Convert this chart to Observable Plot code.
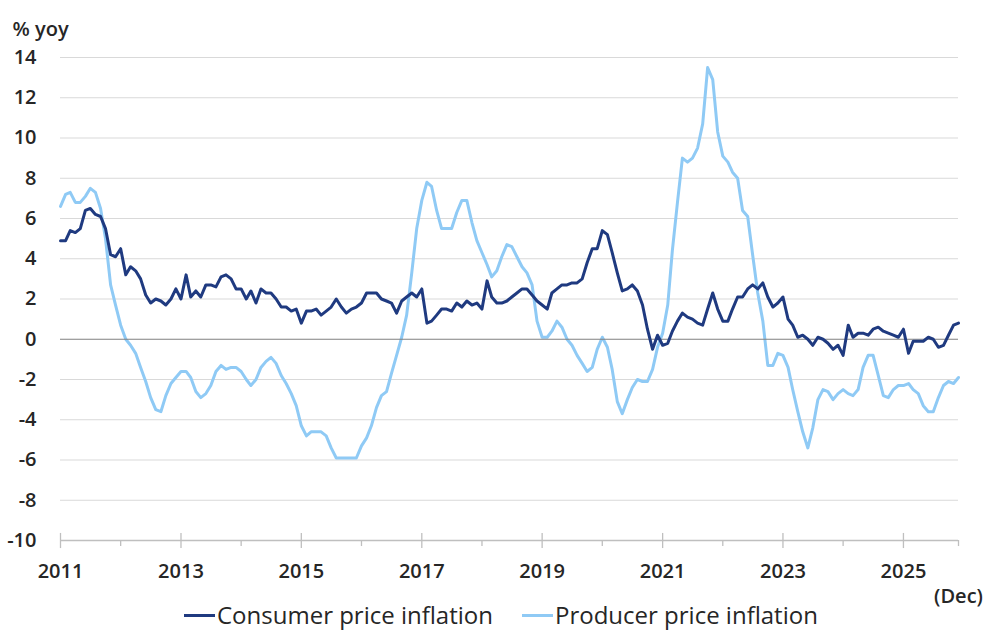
<!DOCTYPE html>
<html>
<head>
<meta charset="utf-8">
<script src="https://cdn.jsdelivr.net/npm/d3@7"></script>
<script src="https://cdn.jsdelivr.net/npm/@observablehq/plot@0.6"></script>
<style>
  html, body { margin: 0; padding: 0; background: #fff; }
  body { width: 987px; height: 631px; overflow: hidden; font-family: "Open Sans", sans-serif; color: #262626; }
  #chart svg { display: block; overflow: visible; }
  #legend { position: relative; height: 24px; }
  .item { position: absolute; top: 0; height: 24px; display: flex; align-items: center; font-size: 24px; line-height: 24px; white-space: nowrap; }
  .sw { display: inline-block; width: 31px; height: 3px; margin-right: 2px; }
</style>
</head>
<body>
<div id="chart"></div>
<div id="legend">
  <div class="item" style="left:184px"><span class="sw" style="background:#1f3a80"></span>Consumer price inflation</div>
  <div class="item" style="left:522px"><span class="sw" style="background:#8fcaf5"></span>Producer price inflation</div>
</div>
<script>
const startYear = 2011;
const seriesNames = ["Consumer price inflation", "Producer price inflation"];
const yTicks = [-10, -8, -6, -4, -2, 0, 2, 4, 6, 8, 10, 12, 14];
const xLabelYears = [2011, 2013, 2015, 2017, 2019, 2021, 2023, 2025];
const endLabel = "(Dec)";
const yUnit = "% yoy";

// Monthly values, Jan 2011 – Dec 2025
const cpi = [
  4.9, 4.9, 5.4, 5.3, 5.5, 6.4, 6.5, 6.2, 6.1, 5.5, 4.2, 4.1,
  4.5, 3.2, 3.6, 3.4, 3.0, 2.2, 1.8, 2.0, 1.9, 1.7, 2.0, 2.5,
  2.0, 3.2, 2.1, 2.4, 2.1, 2.7, 2.7, 2.6, 3.1, 3.2, 3.0, 2.5,
  2.5, 2.0, 2.4, 1.8, 2.5, 2.3, 2.3, 2.0, 1.6, 1.6, 1.4, 1.5,
  0.8, 1.4, 1.4, 1.5, 1.2, 1.4, 1.6, 2.0, 1.6, 1.3, 1.5, 1.6,
  1.8, 2.3, 2.3, 2.3, 2.0, 1.9, 1.8, 1.3, 1.9, 2.1, 2.3, 2.1,
  2.5, 0.8, 0.9, 1.2, 1.5, 1.5, 1.4, 1.8, 1.6, 1.9, 1.7, 1.8,
  1.5, 2.9, 2.1, 1.8, 1.8, 1.9, 2.1, 2.3, 2.5, 2.5, 2.2, 1.9,
  1.7, 1.5, 2.3, 2.5, 2.7, 2.7, 2.8, 2.8, 3.0, 3.8, 4.5, 4.5,
  5.4, 5.2, 4.3, 3.3, 2.4, 2.5, 2.7, 2.4, 1.7, 0.5, -0.5, 0.2,
  -0.3, -0.2, 0.4, 0.9, 1.3, 1.1, 1.0, 0.8, 0.7, 1.5, 2.3, 1.5,
  0.9, 0.9, 1.5, 2.1, 2.1, 2.5, 2.7, 2.5, 2.8, 2.1, 1.6, 1.8,
  2.1, 1.0, 0.7, 0.1, 0.2, 0.0, -0.3, 0.1, 0.0, -0.2, -0.5, -0.3,
  -0.8, 0.7, 0.1, 0.3, 0.3, 0.2, 0.5, 0.6, 0.4, 0.3, 0.2, 0.1,
  0.5, -0.7, -0.1, -0.1, -0.1, 0.1, 0.0, -0.4, -0.3, 0.2, 0.7, 0.8
];
const ppi = [
  6.6, 7.2, 7.3, 6.8, 6.8, 7.1, 7.5, 7.3, 6.5, 5.0, 2.7, 1.7,
  0.7, 0.0, -0.3, -0.7, -1.4, -2.1, -2.9, -3.5, -3.6, -2.8, -2.2, -1.9,
  -1.6, -1.6, -1.9, -2.6, -2.9, -2.7, -2.3, -1.6, -1.3, -1.5, -1.4, -1.4,
  -1.6, -2.0, -2.3, -2.0, -1.4, -1.1, -0.9, -1.2, -1.8, -2.2, -2.7, -3.3,
  -4.3, -4.8, -4.6, -4.6, -4.6, -4.8, -5.4, -5.9, -5.9, -5.9, -5.9, -5.9,
  -5.3, -4.9, -4.3, -3.4, -2.8, -2.6, -1.7, -0.8, 0.1, 1.2, 3.3, 5.5,
  6.9, 7.8, 7.6, 6.4, 5.5, 5.5, 5.5, 6.3, 6.9, 6.9, 5.8, 4.9,
  4.3, 3.7, 3.1, 3.4, 4.1, 4.7, 4.6, 4.1, 3.6, 3.3, 2.7, 0.9,
  0.1, 0.1, 0.4, 0.9, 0.6, 0.0, -0.3, -0.8, -1.2, -1.6, -1.4, -0.5,
  0.1, -0.4, -1.5, -3.1, -3.7, -3.0, -2.4, -2.0, -2.1, -2.1, -1.5, -0.4,
  0.3, 1.7, 4.4, 6.8, 9.0, 8.8, 9.0, 9.5, 10.7, 13.5, 12.9, 10.3,
  9.1, 8.8, 8.3, 8.0, 6.4, 6.1, 4.2, 2.3, 0.9, -1.3, -1.3, -0.7,
  -0.8, -1.4, -2.5, -3.6, -4.6, -5.4, -4.4, -3.0, -2.5, -2.6, -3.0, -2.7,
  -2.5, -2.7, -2.8, -2.5, -1.4, -0.8, -0.8, -1.8, -2.8, -2.9, -2.5, -2.3,
  -2.3, -2.2, -2.5, -2.7, -3.3, -3.6, -3.6, -2.9, -2.3, -2.1, -2.2, -1.9
];

const monthDate = i => new Date(Date.UTC(startYear + Math.floor(i / 12), i % 12, 1));
const data = cpi.map((v, i) => ({ date: monthDate(i), cpi: v, ppi: ppi[i] }));
const start = data[0].date;
const end = data[data.length - 1].date;
const yearDates = d3.range(startYear, startYear + cpi.length / 12).map(y => new Date(Date.UTC(y, 0, 1)));
const majorTicks = yearDates.filter(d => xLabelYears.includes(d.getUTCFullYear()));
const minorTicks = yearDates.filter(d => !xLabelYears.includes(d.getUTCFullYear())).concat([end]);
const labelDates = xLabelYears.map(y => new Date(Date.UTC(y, 0, 1)));

const font = "'Open Sans', sans-serif";
const textColor = "#262626";
const tickFont = 20;

const chart = Plot.plot({
  width: 987,
  height: 603,
  marginLeft: 60,
  marginRight: 29,
  marginTop: 57,
  marginBottom: 63,
  style: { fontFamily: font, background: "white", overflow: "visible" },
  x: { type: "utc", domain: [start, end], axis: null },
  y: { domain: [-10, 14], axis: null },
  marks: [
    Plot.ruleY(yTicks.filter(v => v !== 0 && v !== -10), { stroke: "#d9d9d9", strokeWidth: 1 }),
    Plot.ruleY([-10], { stroke: "#bfbfbf", strokeWidth: 1.3 }),
    Plot.ruleX(majorTicks, { x: d => d, y1: -9.65, y2: -10.4, stroke: "#bfbfbf", strokeWidth: 1.3 }),
    Plot.ruleX(minorTicks, { x: d => d, y1: -10, y2: -10.3, stroke: "#bfbfbf", strokeWidth: 1.3 }),
    Plot.line(data, { x: "date", y: "ppi", stroke: "#8fcaf5", strokeWidth: 3, curve: "linear" }),
    Plot.ruleY([0], { stroke: "#808080", strokeWidth: 1.2 }),
    Plot.line(data, { x: "date", y: "cpi", stroke: "#1f3a80", strokeWidth: 3, curve: "linear" }),
    Plot.text(yTicks, { x: () => start, y: d => d, text: d => String(d), textAnchor: "end", dx: -24, fontSize: tickFont, fontWeight: 600, fill: textColor }),
    Plot.text(labelDates, { x: d => d, text: d => String(d.getUTCFullYear()), frameAnchor: "bottom", dy: 37, fontSize: tickFont, fontWeight: 600, fill: textColor }),
    Plot.text([end], { x: d => d, text: () => endLabel, frameAnchor: "bottom", dy: 62, fontSize: tickFont, fontWeight: 600, fill: textColor }),
    Plot.text([yUnit], { text: d => d, frameAnchor: "top-left", dx: -48, dy: -36, textAnchor: "start", fontSize: 20, fontWeight: 600, fill: textColor })
  ]
});
document.getElementById("chart").appendChild(chart);
</script>
</body>
</html>
